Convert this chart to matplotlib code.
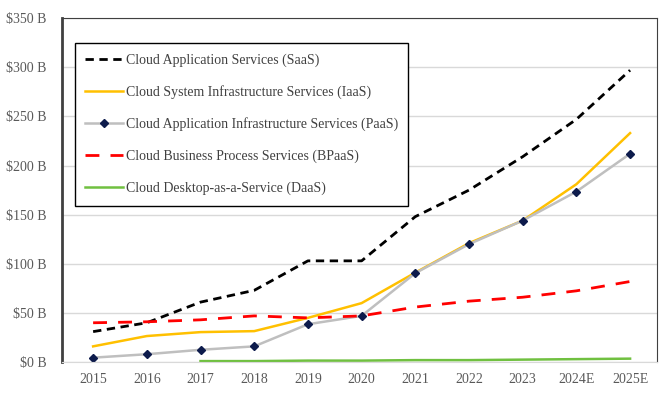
import matplotlib.pyplot as plt
import numpy as np

plt.rcParams['font.family'] = ['Liberation Serif', 'DejaVu Serif']

years = ["2015", "2016", "2017", "2018", "2019", "2020", "2021", "2022", "2023", "2024E", "2025E"]
saas = [31, 40, 61, 73, 103, 103, 148, 175, 209, 247, 297]
iaas = [16, 26.5, 30.5, 31.5, 45, 60, 91, 121, 144, 181, 233]
paas = [4.5, 8, 12.5, 16, 38.5, 47, 90.5, 120, 144, 173.5, 212]
bpaas = [40, 41, 43, 47, 45, 47, 56, 62, 66, 72.5, 82]
daas = [np.nan, np.nan, 1, 1, 1.5, 1.5, 2, 2, 2.5, 3, 3.5]

x = np.arange(len(years))

fig = plt.figure(figsize=(6.7, 3.94), dpi=100)
ax = fig.add_axes([0.0925, 0.081, 0.888, 0.873])

ax.plot(x, saas, color="black", lw=2, ls=(0, (3, 2)), label="Cloud Application Services (SaaS)")
ax.plot(x, iaas, color="#ffc000", lw=1.8, label="Cloud System Infrastructure Services (IaaS)")
ax.plot(x, paas, color="#bfbfbf", lw=1.8, marker="D", ms=4.5, mfc="#0d1b4c", mec="#0d1b4c",
        label="Cloud Application Infrastructure Services (PaaS)")
ax.plot(x, bpaas, color="#ff0000", lw=2, ls=(0, (5, 4)), label="Cloud Business Process Services (BPaaS)")
ax.plot(x, daas, color="#70c040", lw=1.8, label="Cloud Desktop-as-a-Service (DaaS)")

ax.set_xlim(-0.58, 10.5)
ax.set_ylim(0, 350)
ax.set_xticks(x)
ax.set_xticklabels(years)
yt = np.arange(0, 351, 50)
ax.set_yticks(yt)
ax.set_yticklabels([f"${v} B" for v in yt])
ax.tick_params(length=0, labelsize=10, colors="#595959", pad=8)
ax.tick_params(axis="y", pad=11)
ax.grid(axis="y", color="#d9d9d9", lw=1)
ax.set_axisbelow(True)

ax.spines["left"].set_color("#404040")
ax.spines["left"].set_linewidth(2)
ax.spines["top"].set_color("#404040")
ax.spines["right"].set_color("#404040")
ax.spines["bottom"].set_color("#d9d9d9")

leg = ax.legend(loc="upper left", bbox_to_anchor=(75 / 670, 1 - 43 / 394), bbox_transform=fig.transFigure,
                fontsize=10, frameon=True, fancybox=False, edgecolor="black", framealpha=1,
                handlelength=2.7, handletextpad=0.2, labelspacing=1.32, borderpad=0.75, borderaxespad=0)
leg.get_frame().set_linewidth(1)
for t in leg.get_texts():
    t.set_color("#404040")

fig.savefig("out.png", dpi=100)
